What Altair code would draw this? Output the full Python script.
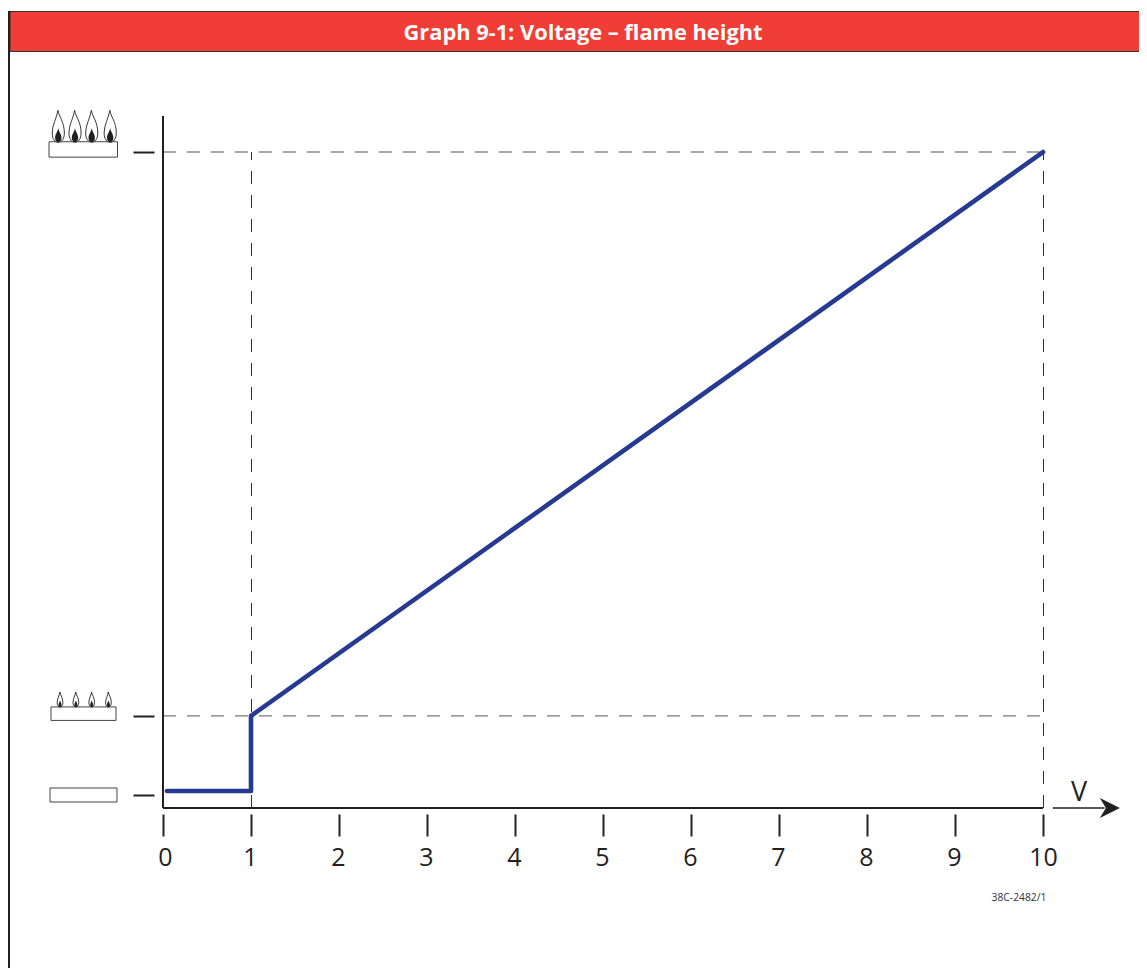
import altair as alt
import pandas as pd

volts = [0.045, 1, 1, 10]
flame = [0.62, 0.62, 12.3, 100]
x_ticks = list(range(0, 11))
y_ticks = [0, 12.3, 100]
guide_h = [12.3, 100]
guide_v = [1, 10]
title_text = "Graph 9-1: Voltage – flame height"
code_text = "38C-2482/1"
unit_text = "V"

large_flame_x = [-1.19, -1.0, -0.81, -0.6]
small_flame_x = [-1.17, -0.99, -0.81, -0.62]
burners = pd.DataFrame({
    "x": [-1.295, -1.273, -1.284],
    "x2": [-0.517, -0.534, -0.523],
    "y": [101.6, 13.7, 1.09],
    "y2": [99.2, 11.6, -1.09],
})

INK = "#231f20"
BLUE = "#263a92"
RED = "#f03e36"
FONT = "Open Sans"
W, H = 880, 692
PAD_L, PAD_T, PAD_R, PAD_B = 155, 108, 96, 160

X = alt.Scale(domain=[0, 10], nice=False, zero=False)
Y = alt.Scale(domain=[-2.022, 105.6], nice=False, zero=False)

one = pd.DataFrame({"a": [0]})
base = alt.Chart(one)

band = base.mark_rect(color=RED, stroke="#333333", strokeWidth=1).encode(
    x=alt.value(2 - PAD_L), x2=alt.value(W + PAD_R + 4),
    y=alt.value(3.5 - PAD_T), y2=alt.value(43.5 - PAD_T))
frame = base.mark_rule(color=INK, strokeWidth=2).encode(
    x=alt.value(1 - PAD_L), y=alt.value(3 - PAD_T), y2=alt.value(H + PAD_B))
title = base.mark_text(text=title_text, font=FONT, fontWeight="bold", fontSize=21.8,
                       color="white", align="center", baseline="middle").encode(
    x=alt.value(420), y=alt.value(25 - PAD_T))

axes = alt.Chart(pd.DataFrame({"v": x_ticks, "f": [0] * 10 + [100]})).mark_point(opacity=0).encode(
    x=alt.X("v:Q", scale=X, title=None, axis=alt.Axis(
        values=x_ticks, offset=6, tickSize=22, tickWidth=2, tickColor=INK, domain=False,
        grid=False, labelFontSize=25, labelFont=FONT, labelColor=INK, labelPadding=9,
        labelOverlap=False, labelFlush=False, format="d", labelAngle=0,
        labelOffset=alt.expr("datum.value == 0 ? 2 : (datum.value == 10 ? 0 : -1)"))),
    y=alt.Y("f:Q", scale=Y, title=None, axis=alt.Axis(
        values=y_ticks, offset=9, tickSize=21, tickWidth=2, tickColor=INK, domain=False,
        grid=False, labels=False)),
)

dash = [13, 11]
h_guides = alt.Chart(pd.DataFrame({"f": guide_h, "a": [0, 0], "b": [10, 10]})).mark_rule(
    color="#555555", strokeWidth=1, strokeDash=dash).encode(
    x=alt.X("a:Q", scale=X), x2="b:Q", y=alt.Y("f:Q", scale=Y))
v_guides = alt.Chart(pd.DataFrame({"v": guide_v, "a": [-2.022] * 2, "b": [100, 100]})).mark_rule(
    color="#333333", strokeWidth=1, strokeDash=dash, xOffset=0.5).encode(
    x=alt.X("v:Q", scale=X), y=alt.Y("a:Q", scale=Y), y2="b:Q")

x_line = alt.Chart(pd.DataFrame({"a": [0], "b": [10], "f": [-2.022]})).mark_rule(
    color=INK, strokeWidth=2).encode(x=alt.X("a:Q", scale=X), x2="b:Q", y=alt.Y("f:Q", scale=Y))
y_line = alt.Chart(pd.DataFrame({"v": [0], "a": [-2.022], "b": [105.6]})).mark_rule(
    color=INK, strokeWidth=2).encode(x=alt.X("v:Q", scale=X), y=alt.Y("a:Q", scale=Y), y2="b:Q")

arrow_line = alt.Chart(pd.DataFrame({"a": [10.11], "b": [10.7], "f": [-2.022]})).mark_rule(
    color=INK, strokeWidth=1.5).encode(x=alt.X("a:Q", scale=X), x2="b:Q", y=alt.Y("f:Q", scale=Y))
arrow_head = alt.Chart(pd.DataFrame({"v": [10.76], "f": [-2.022]})).mark_point(
    shape="M1 0 L-1 -1 L-0.4 0 L-1 1 Z", size=400, filled=True, opacity=1, color=INK).encode(
    x=alt.X("v:Q", scale=X), y=alt.Y("f:Q", scale=Y))
unit = alt.Chart(pd.DataFrame({"v": [10.41], "f": [0.35], "t": [unit_text]})).mark_text(
    font=FONT, fontSize=27, color=INK, align="center", baseline="middle").encode(
    x=alt.X("v:Q", scale=X), y=alt.Y("f:Q", scale=Y), text="t:N")
code = alt.Chart(pd.DataFrame({"v": [9.727], "f": [-16.05], "t": [code_text]})).mark_text(
    font=FONT, fontSize=10.3, color="#333333", align="center", baseline="middle").encode(
    x=alt.X("v:Q", scale=X), y=alt.Y("f:Q", scale=Y), text="t:N")

burner_rects = alt.Chart(burners).mark_rect(fill="white", stroke="#444444", strokeWidth=1).encode(
    x=alt.X("x:Q", scale=X), x2="x2:Q", y=alt.Y("y:Q", scale=Y), y2="y2:Q")

OUTER = ("M-0.02 -1 C0.02 -0.62 0.38 -0.3 0.38 0.42 C0.38 0.8 0.2 1 0 1 "
         "C-0.2 1 -0.38 0.8 -0.38 0.42 C-0.38 -0.1 -0.1 -0.5 -0.02 -1 Z")
CORE = ("M0 0.1 C0.04 0.35 0.2 0.48 0.2 0.72 C0.2 0.9 0.1 1 0 1 "
        "C-0.1 1 -0.2 0.9 -0.2 0.72 C-0.2 0.48 -0.04 0.35 0 0.1 Z")


def flames(xs, level, size):
    d = pd.DataFrame({"v": xs, "f": [level] * len(xs)})
    enc = dict(x=alt.X("v:Q", scale=X), y=alt.Y("f:Q", scale=Y))
    o = alt.Chart(d).mark_point(shape=OUTER, size=size, fill="white", filled=True, opacity=1,
                                stroke=INK, strokeWidth=0.9).encode(**enc)
    c = alt.Chart(d).mark_point(shape=CORE, size=size, filled=True, opacity=1, color=INK).encode(**enc)
    return o + c


line = alt.Chart(pd.DataFrame({"v": volts, "f": flame, "o": range(len(volts))})).mark_line(
    color=BLUE, strokeWidth=4.6, strokeCap="round", strokeJoin="round", clip=False).encode(
    x=alt.X("v:Q", scale=X), y=alt.Y("f:Q", scale=Y), order="o:Q")

chart = alt.layer(
    axes, band, frame, title, h_guides, v_guides, x_line, y_line, arrow_line, arrow_head,
    unit, code, burner_rects,
    flames(large_flame_x, 104.0, 1024), flames(small_flame_x, 14.85, 225), line,
).properties(
    width=W, height=H, background="white",
    padding={"left": PAD_L, "top": PAD_T, "right": PAD_R, "bottom": PAD_B},
    autosize=alt.AutoSizeParams(type="none"),
).configure_view(strokeWidth=0)

chart.save("out.html", embed_options={"renderer": "svg", "actions": False})
